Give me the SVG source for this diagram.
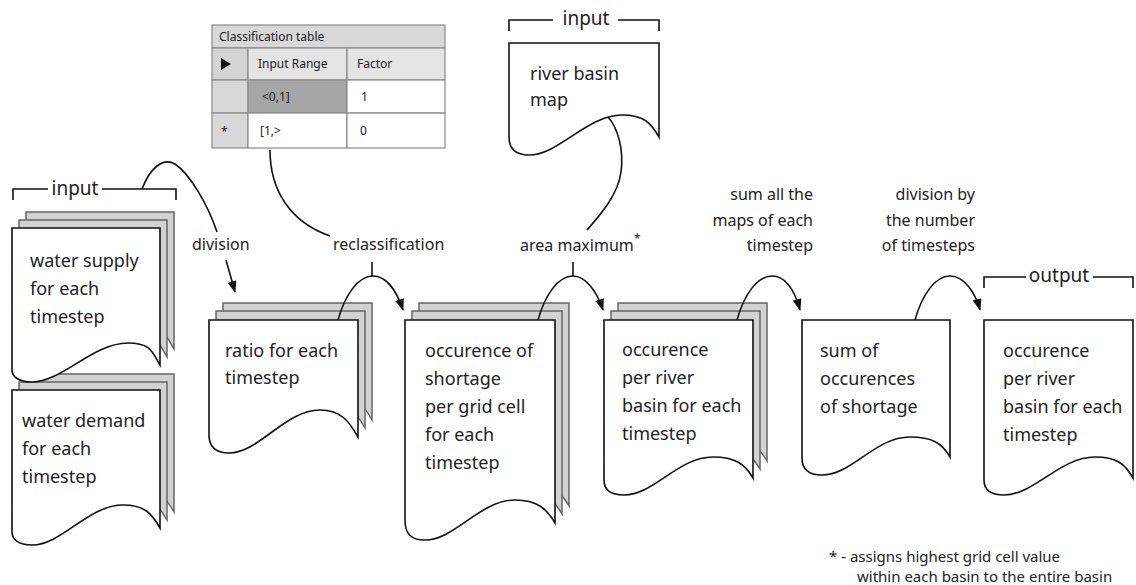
<svg xmlns="http://www.w3.org/2000/svg" width="1136" height="585" viewBox="0 0 1136 585">
<defs>
<marker id="ah" markerWidth="13" markerHeight="10" refX="11" refY="4.5" orient="auto" markerUnits="userSpaceOnUse">
<path d="M0,0 L12,4.5 L0,9 z" fill="#111"/>
</marker>
<style>
text{font-family:"Noto Sans","Open Sans","Liberation Sans",sans-serif;fill:#222}
.nt{font-size:18px}
.lb{font-size:16px}
.br{font-size:19px}
.tb{font-size:12px}
.fn{font-size:15px}
.front{fill:#fff;stroke:#111;stroke-width:1.6}
.back{fill:#d2d2d2;stroke:#666;stroke-width:1.5}
.con{fill:none;stroke:#111;stroke-width:1.6}
.brk{fill:none;stroke:#111;stroke-width:1.6}
.cell{stroke:#8a8a8a;stroke-width:1.2}
</style>
</defs>
<rect width="1136" height="585" fill="#fff"/>

<g id="table">
<rect class="cell" x="212" y="25" width="233" height="23" fill="#d8d8d8"/>
<rect class="cell" x="212" y="48" width="36" height="32" fill="#d4d4d4"/>
<rect class="cell" x="248" y="48" width="99" height="32" fill="#e4e4e4"/>
<rect class="cell" x="347" y="48" width="98" height="32" fill="#e4e4e4"/>
<rect class="cell" x="212" y="80" width="36" height="33" fill="#d8d8d8"/>
<rect class="cell" x="248" y="80" width="99" height="33" fill="#a6a6a6"/>
<rect class="cell" x="347" y="80" width="98" height="33" fill="#fff"/>
<rect class="cell" x="212" y="113" width="36" height="35" fill="#d8d8d8"/>
<rect class="cell" x="248" y="113" width="99" height="35" fill="#fff"/>
<rect class="cell" x="347" y="113" width="98" height="35" fill="#fff"/>
<text class="tb" x="219" y="41">Classification table</text>
<polygon points="221,58 231,64 221,70" fill="#111"/>
<text class="tb" x="258" y="68">Input Range</text>
<text class="tb" x="357" y="68">Factor</text>
<text class="tb" x="262" y="101">&lt;0,1]</text>
<text class="tb" x="361" y="101">1</text>
<text class="tb" x="221" y="136">*</text>
<text class="tb" x="260" y="135">[1,&gt;</text>
<text class="tb" x="360" y="135">0</text>
</g>

<g id="input-bracket-left">
<path class="brk" d="M13,200 V189 H48 M102,189 H176 V200"/>
<text class="br" x="75" y="195" text-anchor="middle">input</text>
</g>

<g id="water-demand">
<g class="back">
<path transform="translate(14,-16)" d="M12,390 H160 V528 C152,514 145,505 123,505 C88,505 62,545 32,545 C18,545 12,539 12,532 Z"/>
<path transform="translate(7,-8)" d="M12,390 H160 V528 C152,514 145,505 123,505 C88,505 62,545 32,545 C18,545 12,539 12,532 Z"/>
</g>
<path class="front" d="M12,390 H160 V528 C152,514 145,505 123,505 C88,505 62,545 32,545 C18,545 12,539 12,532 Z"/>
<text class="nt" x="22" y="427">water demand</text>
<text class="nt" x="22" y="455">for each</text>
<text class="nt" x="22" y="483">timestep</text>
</g>

<g id="water-supply">
<g class="back">
<path transform="translate(14,-16)" d="M12,228 H160 V365 C152,351 150,343 128,343 C93,343 62,382 32,382 C18,382 12,376 12,370 Z"/>
<path transform="translate(7,-8)" d="M12,228 H160 V365 C152,351 150,343 128,343 C93,343 62,382 32,382 C18,382 12,376 12,370 Z"/>
</g>
<path class="front" d="M12,228 H160 V365 C152,351 150,343 128,343 C93,343 62,382 32,382 C18,382 12,376 12,370 Z"/>
<text class="nt" x="30" y="267">water supply</text>
<text class="nt" x="30" y="295">for each</text>
<text class="nt" x="30" y="323">timestep</text>
</g>

<g id="ratio">
<g class="back">
<path transform="translate(14,-17)" d="M209,320 H358 V437 C350,423 342,410 320,410 C285,410 259,453 229,453 C215,453 209,447 209,435 Z"/>
<path transform="translate(7,-9)" d="M209,320 H358 V437 C350,423 342,410 320,410 C285,410 259,453 229,453 C215,453 209,447 209,435 Z"/>
</g>
<path class="front" d="M209,320 H358 V437 C350,423 342,410 320,410 C285,410 259,453 229,453 C215,453 209,447 209,435 Z"/>
<text class="nt" x="225" y="357">ratio for each</text>
<text class="nt" x="225" y="384">timestep</text>
</g>

<g id="shortage">
<g class="back">
<path transform="translate(14,-17)" d="M405,320 H555 V523 C547,509 537,500 515,500 C480,500 455,540 425,540 C411,540 405,534 405,520 Z"/>
<path transform="translate(7,-9)" d="M405,320 H555 V523 C547,509 537,500 515,500 C480,500 455,540 425,540 C411,540 405,534 405,520 Z"/>
</g>
<path class="front" d="M405,320 H555 V523 C547,509 537,500 515,500 C480,500 455,540 425,540 C411,540 405,534 405,520 Z"/>
<text class="nt" x="425" y="357">occurence of</text>
<text class="nt" x="425" y="385">shortage</text>
<text class="nt" x="425" y="413">per grid cell</text>
<text class="nt" x="425" y="441">for each</text>
<text class="nt" x="425" y="469">timestep</text>
</g>

<g id="river-basin">
<path class="brk" d="M509,31 V20 H553 M618,20 H659 V31"/>
<text class="br" x="586" y="25" text-anchor="middle">input</text>
<path class="front" d="M509,43 H659 V137 C651,123 644,115 622,115 C587,115 559,155 529,155 C515,155 509,149 509,137 Z"/>
<text class="nt" x="530" y="80">river basin</text>
<text class="nt" x="530" y="106">map</text>
</g>

<g id="per-basin">
<g class="back">
<path transform="translate(14,-17)" d="M604,320 H753 V478 C745,464 735,457 713,457 C678,457 654,495 624,495 C610,495 604,489 604,480 Z"/>
<path transform="translate(7,-9)" d="M604,320 H753 V478 C745,464 735,457 713,457 C678,457 654,495 624,495 C610,495 604,489 604,480 Z"/>
</g>
<path class="front" d="M604,320 H753 V478 C745,464 735,457 713,457 C678,457 654,495 624,495 C610,495 604,489 604,480 Z"/>
<text class="nt" x="622" y="356">occurence</text>
<text class="nt" x="622" y="384">per river</text>
<text class="nt" x="622" y="412">basin for each</text>
<text class="nt" x="622" y="440">timestep</text>
</g>

<g id="sum">
<path class="front" d="M802,320 H950 V457 C942,443 932,437 910,437 C875,437 852,475 822,475 C808,475 802,469 802,458 Z"/>
<text class="nt" x="820" y="357">sum of</text>
<text class="nt" x="820" y="385">occurences</text>
<text class="nt" x="820" y="413">of shortage</text>
</g>

<g id="output">
<path class="brk" d="M984,288 V277 H1026 M1093,277 H1133 V288"/>
<text class="br" x="1059" y="282" text-anchor="middle">output</text>
<path class="front" d="M984,320 H1133 V478 C1125,464 1117,457 1095,457 C1060,457 1034,495 1004,495 C990,495 984,489 984,480 Z"/>
<text class="nt" x="1003" y="357">occurence</text>
<text class="nt" x="1003" y="385">per river</text>
<text class="nt" x="1003" y="413">basin for each</text>
<text class="nt" x="1003" y="441">timestep</text>
</g>

<g id="connectors">
<path class="con" d="M142,189 C150,168 163,157 175,164 C190,174 208,205 217,232"/>
<path class="con" d="M226,260 L235,292" marker-end="url(#ah)"/>
<path class="con" d="M270,150 C270,190 290,222 330,236"/>
<path class="con" d="M372,262 V276"/>
<path class="con" d="M338,320 C345,295 358,276 373,276 C387,276 397,292 403,310" marker-end="url(#ah)"/>
<path class="con" d="M608,117 C618,128 624,150 621,172 C618,195 600,215 587,230"/>
<path class="con" d="M573,262 V276"/>
<path class="con" d="M538,320 C545,295 558,276 573,276 C586,276 597,292 603,310" marker-end="url(#ah)"/>
<path class="con" d="M737,320 C744,295 757,276 772,276 C786,276 795,292 800,310" marker-end="url(#ah)"/>
<path class="con" d="M915,320 C922,295 935,276 950,276 C964,276 975,292 980,310" marker-end="url(#ah)"/>
</g>

<g id="labels">
<text class="lb" x="192" y="250">division</text>
<text class="lb" x="333" y="250">reclassification</text>
<text class="lb" x="520" y="251">area maximum</text>
<text class="tb" x="634" y="243">*</text>
<text class="lb" x="813" y="200" text-anchor="end">sum all the</text>
<text class="lb" x="813" y="226" text-anchor="end">maps of each</text>
<text class="lb" x="813" y="251" text-anchor="end">timestep</text>
<text class="lb" x="975" y="200" text-anchor="end">division by</text>
<text class="lb" x="975" y="226" text-anchor="end">the number</text>
<text class="lb" x="975" y="251" text-anchor="end">of timesteps</text>
</g>

<g id="footnote">
<text class="fn" x="829" y="562">* - assigns highest grid cell value</text>
<text class="fn" x="857" y="582">within each basin to the entire basin</text>
</g>
</svg>
